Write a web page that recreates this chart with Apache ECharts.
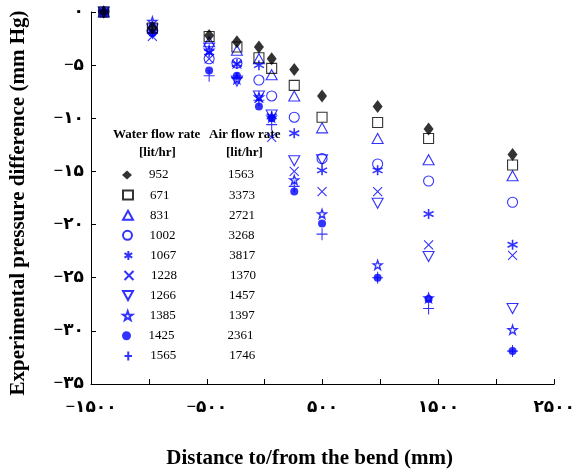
<!DOCTYPE html>
<html><head><meta charset="utf-8">
<script src="https://cdn.jsdelivr.net/npm/echarts@6/dist/echarts.min.js"></script>
<style>html,body{margin:0;padding:0;background:#fff}#c{width:578px;height:474px}</style>
</head><body><div id="c"></div>
<script>
// Distances of the measuring stations (mm)
const distances = [-1390, -970, -480, -240, -50, 60, 255, 495, 975, 1415, 2140];
// Water flow rates (lit/hr) and air flow rates (lit/hr)
const waterFlow = ['952', '671', '831', '1002', '1067', '1228', '1266', '1385', '1425', '1565'];
const airFlow = ['1563', '3373', '2721', '3268', '3817', '1370', '1457', '1397', '2361', '1746'];
// Experimental pressure difference (mm Hg)
const p952  = [0, -1.5, -2.2, -2.8, -3.3, -4.4, -5.4, -7.9, -8.9, -11.0, -13.4];
const p671  = [0, -1.5, -2.3, -3.3, -4.3, -5.3, -6.9, -9.9, -10.4, -11.9, -14.4];
const p831  = [0, -1.3, -2.8, -3.6, -4.4, -5.9, -7.9, -10.9, -11.9, -13.9, -15.4];
const p1002 = [0, -1.8, -4.4, -4.8, -6.4, -7.9, -9.9, -13.8, -14.3, -15.9, -17.9];
const p1067 = [0, -1.8, -3.8, -4.9, -5.0, -9.8, -11.4, -14.9, -14.9, -19.0, -21.9];
const p1228 = [0, -2.3, -4.4, -4.9, -8.1, -11.8, -15.0, -16.9, -16.9, -21.9, -22.9];
const p1266 = [0, -1.6, -3.4, -6.5, -7.9, -9.7, -14.0, -13.9, -18.0, -23.0, -27.9];
const p1385 = [0, -0.9, -3.6, -6.3, -8.0, -9.9, -15.8, -19.0, -23.8, -26.9, -29.9];
const p1425 = [0, -2.0, -5.5, -6.0, -8.9, -10.0, -16.9, -19.9, -25.0, -27.0, -31.9];
const p1565 = [0, -2.0, -6.0, -6.2, -8.3, -10.6, -16.4, -20.9, -25.0, -27.9, -31.9];
// Tick labels (Persian digits)
const xTickValues = [-1500, -500, 500, 1500, 2500];
const xTickLabels = ['−۱۵۰۰', '−۵۰۰', '۵۰۰', '۱۵۰۰', '۲۵۰۰'];
const yTickValues = [0, -5, -10, -15, -20, -25, -30, -35];
const yTickLabels = ['۰', '−۵', '−۱۰', '−۱۵', '−۲۰', '−۲۵', '−۳۰', '−۳۵'];

const allSeries = [p952, p671, p831, p1002, p1067, p1228, p1266, p1385, p1425, p1565];
const BLUE = '#0000ff', BLACK = '#000000';
const styles = [
  {symbol: 'diamond', size: [10, 13], item: {color: BLACK}},
  {symbol: 'rect', size: 10, item: {color: 'rgba(0,0,0,0)', borderColor: BLACK, borderWidth: 1.1}},
  {symbol: 'triangle', size: [11, 10], item: {color: 'rgba(0,0,0,0)', borderColor: BLUE, borderWidth: 1.1}},
  {symbol: 'circle', size: 10, item: {color: 'rgba(0,0,0,0)', borderColor: BLUE, borderWidth: 1.1}},
  {symbol: 'path://M5,0L5,10M0.7,2.5L9.3,7.5M0.7,7.5L9.3,2.5', size: 10, item: {color: 'none', borderColor: BLUE, borderWidth: 1.6}},
  {symbol: 'path://M0,0L10,10M10,0L0,10', size: 9, item: {color: 'none', borderColor: BLUE, borderWidth: 1.1}},
  {symbol: 'path://M0,0L10,0L5,9Z', size: [11, 10], item: {color: 'rgba(0,0,0,0)', borderColor: BLUE, borderWidth: 1.1}},
  {symbol: 'path://M5,0L6.2,3.5L10,3.6L7,5.9L8.1,9.5L5,7.4L1.9,9.5L3,5.9L0,3.6L3.8,3.5Z', size: 9, item: {color: 'rgba(0,0,0,0)', borderColor: BLUE, borderWidth: 1.4}},
  {symbol: 'circle', size: 8, item: {color: BLUE}},
  {symbol: 'path://M5,0L5,12M0,6L10,6', size: [11, 12], item: {color: 'none', borderColor: BLUE, borderWidth: 1.1}}
];

const FONT = '"Liberation Serif", "Times New Roman", "DejaVu Sans", serif';

const series = allSeries.map((vals, i) => ({
  name: waterFlow[i],
  type: 'scatter',
  symbol: styles[i].symbol,
  symbolSize: styles[i].size,
  itemStyle: styles[i].item,
  data: distances.map((d, j) => [d, vals[j]]),
  z: 10 - i
}));

const legends = waterFlow.map((w, i) => ({
  orient: 'vertical',
  left: 122,
  top: 175 + i * 20.1 - 7,
  itemWidth: 10, itemHeight: 9, itemGap: 0,
  padding: 0,
  data: [w],
  selectedMode: false,
  formatter: name => '{w|' + name + '}{a|' + airFlow[waterFlow.indexOf(name)] + '}',
  textStyle: {
    fontFamily: FONT, fontSize: 13, color: '#000', lineHeight: 14,
    rich: {
      w: {width: 79, padding: [0, 0, 0, 12], fontFamily: FONT, fontSize: 13, color: '#000', lineHeight: 14},
      a: {fontFamily: FONT, fontSize: 13, color: '#000', lineHeight: 14}
    }
  }
}));

const chart = echarts.init(document.getElementById('c'), null, {renderer: 'canvas'});
chart.setOption({
  backgroundColor: '#fff',
  animation: false,
  grid: {left: 91, right: 19, top: 12, bottom: 79, containLabel: false},
  xAxis: {
    type: 'value', min: -1500, max: 2500, interval: 500,
    name: 'Distance to/from the bend (mm)', nameLocation: 'middle', nameGap: 64,
    nameTextStyle: {fontFamily: FONT, fontWeight: 'bold', fontSize: 21, color: '#000', padding: [0, 26, 0, 0]},
    axisLine: {show: true, onZero: false, lineStyle: {color: '#000', width: 1}},
    axisTick: {show: true, inside: true, length: 5, lineStyle: {color: '#000'}},
    axisLabel: {
      margin: 15, fontFamily: FONT, fontWeight: 'bold', fontSize: 17, color: '#000',
      formatter: v => { const k = xTickValues.indexOf(v); return k >= 0 ? xTickLabels[k] : ''; }
    },
    splitLine: {show: false}
  },
  yAxis: {
    type: 'value', min: -35, max: 0, interval: 5,
    name: 'Experimental pressure difference (mm Hg)', nameLocation: 'middle', nameGap: 62,
    nameTextStyle: {fontFamily: FONT, fontWeight: 'bold', fontSize: 21, color: '#000', padding: [0, 10, 0, 0]},
    axisLine: {show: true, onZero: false, lineStyle: {color: '#000', width: 1}},
    axisTick: {show: true, inside: true, length: 5, lineStyle: {color: '#000'}},
    axisLabel: {
      margin: 7, fontFamily: FONT, fontWeight: 'bold', fontSize: 17, color: '#000', padding: [0, 0, 10, 0],
      formatter: v => { const k = yTickValues.indexOf(v); return k >= 0 ? yTickLabels[k] : ''; }
    },
    splitLine: {show: false}
  },
  legend: legends,
  graphic: [
    {type: 'text', left: 113, top: 128, style: {text: 'Water flow rate', font: 'bold 13px ' + FONT, fill: '#000'}},
    {type: 'text', left: 139, top: 146, style: {text: '[lit/hr]', font: 'bold 13px ' + FONT, fill: '#000'}},
    {type: 'text', left: 209, top: 128, style: {text: 'Air flow rate', font: 'bold 13px ' + FONT, fill: '#000'}},
    {type: 'text', left: 226, top: 146, style: {text: '[lit/hr]', font: 'bold 13px ' + FONT, fill: '#000'}}
  ],
  series: series
});
</script></body></html>
